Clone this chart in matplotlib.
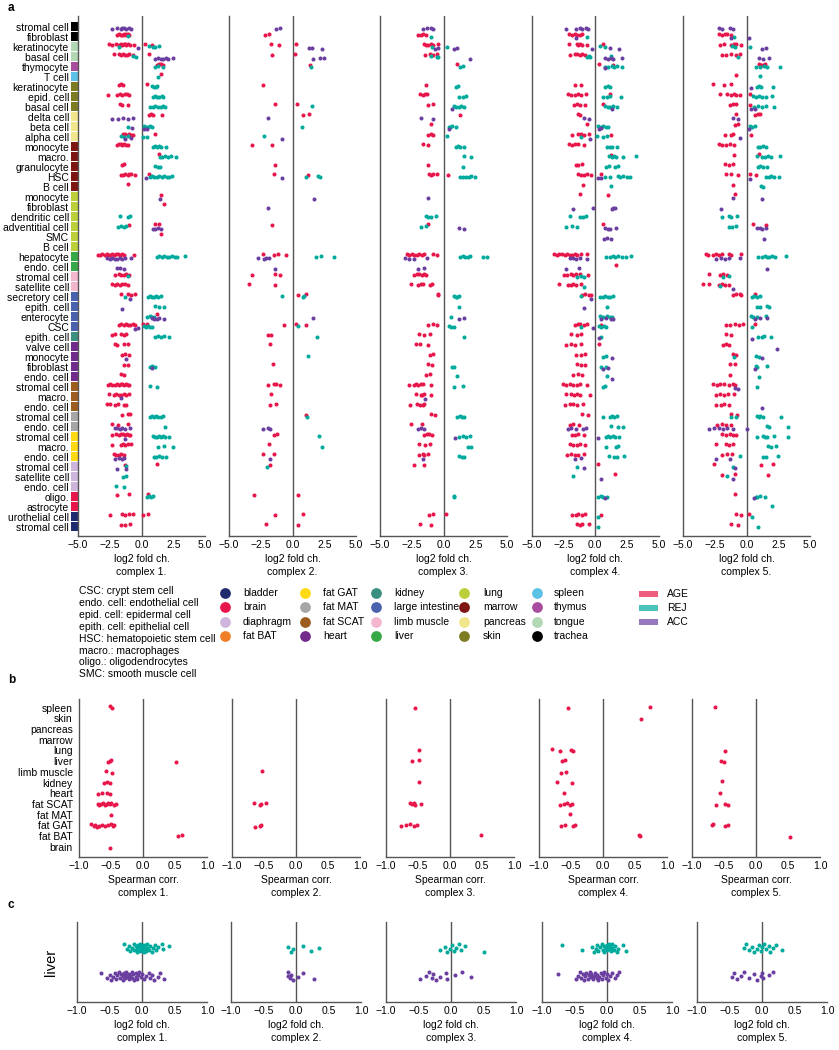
import numpy as np
import matplotlib
matplotlib.use('Agg')
import matplotlib.pyplot as plt
from matplotlib.patches import Rectangle
from matplotlib.transforms import blended_transform_factory

plt.rcParams['font.family'] = ['Liberation Sans', 'DejaVu Sans']
FS = 7.5

# ---------------- data ----------------
cell_labels = ['stromal cell', 'fibroblast', 'keratinocyte', 'basal cell', 'thymocyte', 'T cell',
               'keratinocyte', 'epid. cell', 'basal cell', 'delta cell', 'beta cell', 'alpha cell',
               'monocyte', 'macro.', 'granulocyte', 'HSC', 'B cell', 'monocyte', 'fibroblast',
               'dendritic cell', 'adventitial cell', 'SMC', 'B cell', 'hepatocyte', 'endo. cell',
               'stromal cell', 'satellite cell', 'secretory cell', 'epith. cell', 'enterocyte', 'CSC',
               'epith. cell', 'valve cell', 'monocyte', 'fibroblast', 'endo. cell', 'stromal cell',
               'macro.', 'endo. cell', 'stromal cell', 'endo. cell', 'stromal cell', 'macro.',
               'endo. cell', 'stromal cell', 'satellite cell', 'endo. cell', 'oligo.', 'astrocyte',
               'urothelial cell', 'stromal cell']
cell_tissues = (['trachea'] * 2 + ['tongue'] * 2 + ['thymus'] + ['spleen'] + ['skin'] * 3 +
                ['pancreas'] * 3 + ['marrow'] * 5 + ['lung'] * 6 + ['liver'] * 2 +
                ['limb muscle'] * 2 + ['large intestine'] * 4 + ['kidney'] + ['heart'] * 4 +
                ['fat SCAT'] * 3 + ['fat MAT'] * 2 + ['fat GAT'] * 3 + ['diaphragm'] * 3 +
                ['brain'] * 2 + ['bladder'] * 2)

conditions = ['AGE', 'REJ', 'ACC']
complexes = ['complex 1.', 'complex 2.', 'complex 3.', 'complex 4.', 'complex 5.']

# panel a: log2 fold change per row (1-based row number -> values)
age_c1 = {2: [-1.9, -1.75, -1.6, -1.5, -1.4, -1.3, -1.2, -1.1, -1.0],
          3: [-2.55, -2.3, -2.0, -1.8, -1.7, -1.6, -1.5, -1.4, -1.3, -1.2, -1.05, -0.9, -0.6, 0.3, 0.8],
          4: [-2.15, -1.8, -1.6, -1.45, -1.3, -1.15, -1.0, -0.7, 0.58], 5: [1.2, 1.4, 1.5, 1.7], 6: [1.55],
          7: [-1.75, -1.6, -1.45, 0.4], 8: [-2.6, -1.95, -1.7, -1.5, -1.3, -1.15, -0.95], 9: [-1.7, -1.5, -1.1],
          10: [0.6, 0.75, 0.9, 1.6], 12: [-1.45, -1.3, -1.1, -0.95, -0.8, -0.65, 1.05],
          13: [-1.95, -1.8, -1.65, -1.5, -1.35, -1.2, -1.05], 14: [1.35], 15: [-1.55, -1.4],
          16: [-1.65, -1.45, -1.3, -1.1, -0.95, -0.8, -0.55, 0.58], 17: [-1.05], 18: [1.55], 19: [1.75],
          21: [-0.95, 1.05, 1.35], 22: [1.5],
          24: [-3.45, -3.3, -3.1, -2.9, -2.75, -2.6, -2.45, -2.3, -2.15, -2.0, -1.85, -1.7, -1.55, -1.4, -0.6],
          26: [-2.1, -1.8, -1.6, -1.4, -1.2, -1.0], 27: [-2.35, -2.1, -1.9, -1.7, -1.5, -1.3, -1.1],
          28: [-1.65, -1.05, -0.8, -0.55], 30: [1.25],
          31: [-1.75, -1.6, -1.4, -1.2, -1.05, -0.9, -0.7, -0.55, 0.1, 0.4],
          32: [-2.35, -2.1, -1.6, -1.4, -1.2], 33: [-2.1, -1.9, -1.4, -1.1], 34: [-1.55, -1.3, -1.0],
          35: [-1.35, -1.1], 36: [-1.65, -1.35],
          37: [-2.6, -2.45, -2.3, -2.1, -1.95, -1.8, -1.65, -1.5, -1.35, -1.2, -1.05, -0.95],
          38: [-2.55, -2.2, -2.0, -1.8, -1.6, -1.4, -1.2, -0.95], 39: [-2.7, -2.5, -2.1, -1.85, -1.4, -1.25],
          40: [-1.55, -1.1, -0.9], 41: [-2.3, -1.85, -1.1],
          42: [-2.3, -2.0, -1.8, -1.6, -1.45, -1.3, -1.15, -1.0, -0.9], 43: [-2.3, -1.65, -1.45, -1.3, -1.1, -0.8],
          44: [-2.2, -2.0, -1.8, -1.6, -1.4], 45: [-1.3, 1.2], 48: [-1.9, -0.95, 0.55],
          50: [-2.5, -1.5, -1.3, -1.0, -0.65, 0.15, 0.5], 51: [-1.65, -1.3, -0.9]}
rej_c1 = {2: [-1.1], 3: [-1.8, 0.58, 0.92, 1.05, 1.4], 4: [-0.7, -0.45], 5: [1.05, 1.3, 1.7], 6: [1.3],
          7: [0.85, 1.0, 1.15, 1.25], 8: [0.9, 1.05, 1.2, 1.35, 1.6, 1.7], 9: [0.7, 0.9, 1.1, 1.3, 1.5, 1.7, 1.85],
          11: [-1.05, 0.2, 0.35, 0.5, 0.65, 0.85], 12: [-1.65, -1.4, -1.1, 0.1, 0.45],
          13: [0.9, 1.05, 1.2, 1.35, 1.5, 1.95], 14: [1.45, 1.65, 1.85, 2.05, 2.3, 2.7], 15: [1.1, 1.3, 1.45],
          16: [0.65, 0.85, 1.0, 1.2, 1.4, 1.6, 1.8, 2.0, 2.2, 2.4], 20: [-1.7, -1.1, -0.9],
          21: [-1.85, -1.6, -1.4, -1.2], 24: [1.2, 1.4, 1.6, 1.8, 2.0, 2.2, 2.4, 2.6, 2.8, 3.4], 26: [-1.05],
          28: [-1.3, 0.5, 0.7, 0.85, 1.0, 1.15, 1.3, 1.55], 29: [1.05, 1.4, 1.8], 30: [0.45, 0.65, 0.85, 1.0],
          31: [0.2, 0.35, 0.5, 0.7, 0.85], 32: [1.05, 1.3, 1.5, 1.8, 2.2], 35: [0.65, 0.85, 1.05],
          37: [0.65, 1.2], 40: [0.7, 0.85, 1.0, 1.15, 1.3, 1.5, 1.7], 41: [1.85],
          42: [0.9, 1.05, 1.2, 1.4, 1.55, 1.7, 1.85, 2.2], 43: [1.3, 1.8, 2.45], 44: [1.0, 1.15, 1.35, 1.6, 1.95],
          45: [-1.25], 46: [-1.45, -1.25], 47: [-2.0, -1.4], 48: [0.45, 0.6, 0.75, 0.9]}
acc_c1 = {1: [-2.3, -1.9, -1.6, -1.5, -1.35, -1.2, -1.0, -0.8], 3: [-0.26], 4: [1.05, 1.3, 1.5, 1.7, 1.9, 2.1, 2.5],
          10: [-2.35, -1.85, -1.45, -1.05, -0.65], 11: [-0.75, 0.2, 0.4], 12: [-1.3, -0.8], 16: [0.35], 18: [1.45],
          21: [0.9, 1.1, 1.3, 1.55], 24: [-2.7, -2.5, -2.3, -2.1, -1.9, -1.7, -1.5, -1.3, -0.85],
          25: [-1.95, -1.7, -1.4], 28: [-0.9], 29: [-1.5], 30: [0.8, 1.0, 1.2, 1.4, 1.75], 31: [-0.55, -0.25],
          34: [-1.2], 35: [0.8], 38: [-1.65], 41: [-2.1, -1.9, -1.7, -1.5, -1.3, -0.9], 42: [-1.3],
          44: [-2.1, -1.8, -1.5, -1.4], 45: [-1.9, -1.2]}

age_c2 = {2: [-2.2, -1.85], 3: [-1.7, -1.1, 0.25], 4: [-1.6, 0.2], 5: [1.35], 7: [-2.35], 9: [-1.35, 0.35],
          10: [0.85, 1.3], 13: [-3.15, -1.6], 15: [-1.35], 16: [-1.45, 1.2], 21: [-1.6],
          24: [-2.3, -1.45, -1.15, -0.5], 26: [-3.15, -1.4, -1.0], 27: [-3.45, -1.4], 28: [0.45, 1.05],
          31: [-0.7, 0.3, 1.1], 32: [-1.95, -1.7], 33: [-1.75], 35: [-1.5], 37: [-1.9, -1.45, -1.3, -1.0],
          38: [-1.7], 39: [-1.8, -1.3], 40: [1.1], 42: [-1.45, -1.2], 43: [-1.85], 44: [-2.35, -1.45],
          45: [-1.8], 48: [-3.0, 0.45], 50: [-1.35, 0.8], 51: [-2.1, 0.4]}
rej_c2 = {5: [1.45], 9: [1.5], 11: [0.75], 12: [-2.25], 16: [1.1, 2.0, 2.2], 24: [1.85, 2.25, 3.3],
          28: [-0.85, 0.8, 0.9], 31: [0.4], 32: [1.9], 34: [1.2], 40: [1.15], 42: [2.1], 43: [2.3], 45: [-2.0]}
acc_c2 = {1: [-1.3, -0.95], 3: [1.3, 1.55, 2.35], 4: [1.6, 2.15, 2.5], 10: [-1.9], 12: [-0.8], 16: [-0.8],
          18: [1.7], 19: [-1.9], 24: [-2.7, -2.25, -2.05, -1.85], 25: [-1.4], 30: [1.65],
          41: [-2.3, -1.95, -1.8], 44: [-1.75]}

age_c3 = {2: [-2.0, -1.8, -1.6, -1.35], 3: [-1.55, -1.35, -1.2, -1.0, -0.8, -0.45],
          4: [-1.45, -1.1, -1.0, -0.8, -0.55], 5: [1.1], 7: [-1.35], 8: [-1.85, -1.6, -1.45, -1.3],
          9: [-1.25, -0.8], 10: [1.3], 11: [-1.0], 12: [-1.2, -1.0, -0.85], 13: [-1.65, -1.25], 15: [-1.2],
          16: [-1.15, -1.0, -0.8, -0.5, 0.35], 21: [-1.2],
          24: [-2.9, -2.7, -2.5, -2.3, -2.1, -1.9, -1.7, -1.5, -0.8, -0.5],
          26: [-2.35, -2.1, -1.9, -1.7, -1.5, -1.35], 27: [-2.55, -2.0, -1.8, -1.65, -1.05, -0.9],
          28: [-0.45, -0.4], 31: [-1.2, -0.8, -0.55], 32: [-1.9, -1.55, -1.1], 33: [-2.2, -1.85, -1.2],
          34: [-1.05, -0.8], 35: [-1.2, -0.9], 36: [-1.35, -1.1], 37: [-2.7, -2.3, -2.15, -2.0, -1.8, -1.6, -1.0],
          38: [-2.15, -1.8, -1.7, -1.55, -1.0], 39: [-2.6, -2.05, -1.85, -1.6, -1.5], 40: [-1.0, -0.65],
          41: [-2.55, -1.7], 42: [-1.5, -1.3, -1.15, -0.9], 43: [-1.95, -1.45, -1.05],
          44: [-1.9, -1.6, -1.5, -1.2], 45: [-2.3, -1.5], 50: [-1.15, -0.85, 0.2], 51: [-1.85, -1.0]}
rej_c3 = {2: [-0.95], 3: [-0.9, 0.3], 4: [-1.0, -0.55, -0.4], 5: [1.3, 1.55], 7: [0.95, 1.15],
          8: [1.25, 1.5, 1.8], 9: [0.8, 1.0, 1.2, 1.4, 1.6], 11: [0.4, 0.55, 0.7, 1.0], 12: [0.3],
          13: [1.0, 1.15, 1.3, 1.65], 14: [1.6, 2.2], 15: [1.5], 16: [1.3, 1.55, 1.8, 2.0, 2.2, 2.5],
          20: [-1.4, -1.2, -1.0, -0.6], 21: [-1.75, -1.4], 24: [1.3, 1.5, 1.7, 1.9, 2.1, 3.1, 3.4],
          28: [0.8, 0.95, 1.1, 1.25], 29: [1.25], 30: [0.6], 31: [0.45, 0.6, 0.8], 32: [1.65], 35: [0.7, 0.8],
          36: [1.1], 37: [0.85, 1.55], 40: [1.1, 1.3, 1.45, 1.6], 42: [1.25, 1.55, 1.75, 2.05], 43: [1.95, 2.2],
          44: [1.25, 1.45, 1.65], 48: [0.8, 0.85]}
acc_c3 = {1: [-1.65, -1.3, -1.0, -0.8], 3: [-0.7, -0.45, 0.8, 1.05], 4: [2.05], 9: [0.7], 10: [-1.75, -0.8],
          11: [0.45], 18: [-1.2], 21: [1.2, 1.6], 24: [-3.0, -2.7, -2.3, -1.3], 25: [-2.0, -1.5], 30: [1.2, 1.65],
          38: [-1.45], 41: [-2.0, -1.8, -1.5], 42: [0.9], 44: [-1.6]}

age_c4 = {2: [-2.05, -1.8, -1.6, -1.4, -1.2, -1.05], 3: [-2.05, -1.4, -1.3, -1.15, -1.0, -0.65, 0.6],
          4: [-2.0, -1.6, -1.4, -1.2, -1.0, -0.75], 5: [0.3, 1.4], 7: [-1.55, -1.1],
          8: [-2.15, -1.9, -1.6, -1.3, -1.1, -0.7, 1.2], 9: [-1.65, -1.4, -1.15, -0.8, 0.6], 10: [-1.3, -1.2],
          11: [-0.6], 12: [-1.8, -1.3, -1.1, -0.85, -0.5, 1.25], 13: [-2.05, -1.8, -1.6, -1.3, -0.9], 14: [1.25],
          15: [-1.5, -1.3, -1.05], 16: [-1.3, -1.1, -0.9, -0.6, -0.35, 0.45], 17: [-0.95], 18: [-1.2, 1.0],
          21: [0.6], 24: [-3.2, -3.0, -2.8, -2.6, -2.4, -2.2, -2.0, -1.8, -1.6, -1.4, -1.1, -0.6], 25: [1.65],
          26: [-2.45, -2.2, -1.9, -1.7, -1.5, -1.2, -0.55], 27: [-2.8, -2.1, -1.9, -1.7, -1.5, -1.1],
          28: [-1.05, -0.8, -0.5, -0.3], 31: [-1.55, -1.35, -1.15, -0.9, -0.6, 0.5], 32: [-1.9, -1.4, -1.1],
          33: [-2.3, -1.9, -1.55, -1.1, 0.3], 34: [-1.5, -1.1, -0.75], 35: [-1.4, -1.1, -0.75],
          36: [-1.75, -1.3, -1.0], 37: [-2.55, -2.3, -2.0, -1.7, -1.45, -1.2, -0.65],
          38: [-2.3, -1.9, -1.65, -1.4, -1.15, -0.4], 39: [-2.4, -2.0, -1.7, -1.4, -0.95], 40: [-1.0, -0.55],
          41: [-2.0, -1.75, -1.25], 42: [-1.85, -1.6, -1.3, -0.9], 43: [-2.0, -1.7, -1.45, -1.2, -0.8],
          44: [-2.2, -1.9, -1.6, -1.35, -0.9], 45: [0.2], 46: [1.55],
          50: [-1.85, -1.5, -1.3, -1.0, -0.75, 0.5], 51: [-1.45, -1.2, -1.0, -0.5]}
rej_c4 = {2: [-0.6], 3: [0.4, 0.8], 4: [-0.65, -0.5, -0.4, 1.25], 5: [0.8, 1.05, 1.3, 1.5, 1.7, 2.15],
          7: [0.8, 1.0, 1.15], 8: [0.65, 0.95, 1.2, 2.05], 9: [0.75, 1.0, 1.2, 1.45, 1.75],
          11: [0.2, 0.45, 0.65, 0.85, 1.05], 12: [-1.1, 0.15, 0.6, 0.95], 13: [0.95, 1.15, 1.3, 1.7],
          14: [1.1, 1.3, 1.5, 1.65, 2.2, 3.2], 15: [0.9, 1.1, 1.6, 1.8], 16: [0.8, 1.2, 1.8, 2.0, 2.2, 2.5, 2.75],
          17: [1.25], 20: [-1.95, -1.2, -0.95, -0.7], 21: [-2.25, -1.8, -1.4],
          24: [0.9, 1.2, 1.4, 1.6, 1.8, 2.1, 2.45, 2.85], 26: [-1.45, -1.1, -0.9], 27: [-0.9],
          28: [-1.1, 0.4, 0.6, 0.8, 1.0, 1.2, 1.4], 29: [0.95], 30: [0.4, 0.6, 0.95, 1.15, 1.3],
          31: [-1.1, 0.3, 0.5, 0.7, 0.85], 32: [0.45], 34: [0.6, 0.85], 35: [0.45, 0.9], 36: [0.95],
          37: [0.6, 0.75], 40: [0.6, 1.2, 1.35, 1.5, 1.7], 41: [1.25, 1.8, 2.2], 42: [0.85, 1.0, 1.2, 1.4, 1.6, 1.9],
          43: [0.9, 1.65, 1.8], 44: [1.1, 1.5, 1.75, 2.3], 45: [-1.45], 46: [-1.75], 48: [0.2, 0.45, 0.6, 0.95],
          50: [0.25], 51: [0.25]}
acc_c4 = {1: [-2.3, -1.5, -1.2, -1.0, -0.7, -0.55], 2: [-1.5], 3: [-0.25, 1.2, 1.9], 4: [0.8, 1.05, 1.25, 1.45, 2.1],
          5: [0.8], 9: [1.35], 10: [-0.85, -0.5], 11: [0.3, 0.45], 12: [-0.4], 16: [0.25, 0.5],
          19: [-1.75, -0.15, 1.35, 1.4, 1.6], 21: [0.8, 1.0, 1.2, 1.65], 22: [0.7, 0.95, 1.25],
          24: [-1.95, -1.7, -1.5, -1.2, -0.6], 25: [-2.3, -1.25], 28: [-0.3], 29: [-0.85],
          30: [0.5, 0.85, 1.25, 1.45], 31: [-0.15], 32: [0.3], 34: [1.3], 35: [0.65, 1.0], 36: [1.35],
          41: [-2.1, -1.9, -1.5, -0.95, -0.7], 42: [0.25], 44: [-1.55, -1.1], 45: [-0.9], 46: [0.45], 48: [0.75]}

age_c5 = {2: [-2.2, -1.9, -1.7, -1.5, -1.25], 3: [-2.05, -1.8, -1.2, -1.0, -0.8, -0.4],
          4: [-1.95, -1.65, -1.25, -0.85, -0.55], 5: [1.0, 1.15, 1.3, 1.45], 6: [-0.85], 7: [-2.6, -1.8, -1.2],
          8: [-2.1, -1.5, -1.2, -1.0, -0.8, -0.5, 0.25], 9: [-1.3, -1.1, -0.85, 0.25], 10: [-0.85, 0.65, 0.9, 1.05],
          11: [-0.9, -0.65], 12: [-1.7, -1.2, -1.05, 0.35], 13: [-2.2, -1.9, -1.6, -1.3, -1.0], 14: [-0.95, 1.0],
          15: [-1.7, -1.4, -1.1], 16: [-1.6, -1.2, -0.7, 0.3, 0.75], 17: [-1.05], 18: [-0.9], 21: [0.5, 1.5],
          24: [-3.2, -3.0, -2.6, -2.4, -2.15, -1.9, -1.4, -1.25, -0.4], 26: [-2.95, -2.1, -1.85, -1.55],
          27: [-3.4, -2.95, -2.15, -1.9, -1.7, -1.35], 28: [-1.1, -0.8, -0.55, -0.4, 0.65],
          31: [-1.6, -1.3, -0.9, -0.6, -0.3, 0.65], 32: [-1.6, -1.2], 33: [-1.85, -1.6, -1.35], 34: [-1.1, -0.8],
          35: [-1.3, -0.9], 36: [-1.3], 37: [-2.6, -2.3, -2.05, -1.8, -1.4, -1.1, -0.9],
          38: [-2.4, -2.05, -1.75, -1.45, -1.0], 39: [-2.4, -2.0, -1.8, -1.35], 40: [-1.2, -0.75],
          41: [-2.35, -1.9, -1.6, -1.2], 42: [-1.95, -1.6, -1.3, -1.1, -0.8], 43: [-2.4, -1.6, -1.4, -1.05],
          44: [-1.9, -1.5, -1.15], 45: [-2.55, 1.15, 2.05], 46: [-1.9, -0.9, 1.7], 48: [-0.9],
          50: [-0.8, -0.4, 0.2], 51: [-1.2, -0.65]}
rej_c5 = {2: [-1.0], 3: [-1.15, -0.9, 0.25], 4: [-0.65], 5: [0.75, 1.1, 1.4, 1.65, 2.6], 6: [1.05],
          7: [0.8, 1.0, 1.15, 2.1], 8: [0.5, 0.75, 1.0, 1.25, 1.55, 2.0], 9: [0.6, 0.9, 1.2, 1.5, 2.15],
          11: [0.25, 0.45, 0.7], 13: [0.9, 1.1, 1.3, 1.55], 14: [0.8, 1.25, 1.45, 1.7, 1.95, 2.6],
          15: [0.9, 1.1, 1.3, 1.6], 16: [1.5, 1.75, 1.95, 2.2, 2.55], 17: [1.15, 1.3],
          20: [-1.9, -1.4, -1.2, -0.75], 21: [-1.4, -1.15, -0.85], 24: [0.9, 1.2, 1.45, 1.6, 1.8, 2.0, 2.25, 3.1],
          26: [-1.85, -1.35], 27: [-2.05], 28: [0.4, 0.6, 0.8, 1.05], 29: [0.85, 1.05, 1.6, 1.8],
          30: [0.35, 0.55, 0.85, 1.55], 31: [0.4], 32: [0.9, 1.2, 1.35, 1.9], 34: [-1.0, 0.75, 0.95],
          35: [0.75, 0.85, 1.65], 36: [1.0], 37: [0.8], 40: [-1.25, -0.8, 0.8, 0.95, 1.1, 1.3, 2.75],
          41: [1.6, 1.75, 3.3], 42: [0.8, 1.3, 1.45, 1.6, 2.15, 3.3], 43: [1.7, 1.95, 2.3],
          44: [-0.5, 1.3, 1.55, 2.5], 45: [-1.1], 46: [-1.55], 48: [0.75, 0.85, 1.1, 1.45], 49: [2.0],
          50: [0.4], 51: [0.9]}
acc_c5 = {1: [-2.15, -1.9, -1.3, -1.05], 2: [-1.2, 0.2], 3: [1.25, 1.5], 4: [0.95, 1.3, 1.75], 7: [0.35],
          9: [0.35, 0.7], 10: [-1.1, -0.65], 11: [0.2], 12: [-0.5], 16: [0.3], 18: [-1.05, 1.2], 19: [-2.0],
          21: [0.8, 1.05, 1.2, 1.5], 22: [1.4], 24: [-2.4, -2.0, -1.7, -1.4, -0.5], 25: [1.65], 27: [-1.05],
          30: [0.65, 1.05, 1.6], 32: [0.4], 33: [2.4], 34: [1.25], 35: [0.65], 37: [-0.9, -0.65], 39: [1.2],
          41: [-2.95, -2.55, -2.2, -1.85, -1.5, -1.1, 0.0], 44: [-2.4, -1.3], 45: [-0.9], 46: [-1.05], 48: [0.6]}

# panel b: Spearman correlation per tissue
b_tissues = ['spleen', 'skin', 'pancreas', 'marrow', 'lung', 'liver', 'limb muscle', 'kidney', 'heart',
             'fat SCAT', 'fat MAT', 'fat GAT', 'fat BAT', 'brain']
corr_c1 = {'spleen': [-0.51, -0.48], 'liver': [-0.55, -0.52, -0.5, 0.51], 'limb muscle': [-0.58, -0.49],
           'kidney': [-0.61, -0.57, -0.52], 'heart': [-0.7, -0.64, -0.57, -0.52],
           'fat SCAT': [-0.71, -0.68, -0.65, -0.62, -0.6, -0.57, -0.55, -0.52, -0.5, -0.45, -0.42],
           'fat MAT': [-0.5],
           'fat GAT': [-0.82, -0.77, -0.75, -0.72, -0.68, -0.64, -0.6, -0.55, -0.5, -0.47, -0.45],
           'fat BAT': [0.55, 0.61], 'brain': [-0.52]}
corr_c2 = {'limb muscle': [-0.53], 'fat SCAT': [-0.66, -0.57, -0.55, -0.47], 'fat GAT': [-0.64, -0.57, -0.54]}
corr_c3 = {'spleen': [-0.55], 'lung': [-0.48], 'liver': [-0.59, -0.48], 'kidney': [-0.49],
           'fat SCAT': [-0.63, -0.6, -0.56, -0.54, -0.45], 'fat GAT': [-0.77, -0.68, -0.62, -0.56, -0.52],
           'fat BAT': [0.48]}
corr_c4 = {'spleen': [-0.54, 0.73], 'skin': [0.59], 'lung': [-0.8, -0.67, -0.5, -0.47], 'liver': [-0.64, -0.59],
           'limb muscle': [-0.66, -0.58], 'kidney': [-0.72, -0.48], 'heart': [-0.61],
           'fat SCAT': [-0.67, -0.61, -0.56, -0.51, -0.49], 'fat MAT': [-0.52],
           'fat GAT': [-0.66, -0.6, -0.47, -0.44], 'fat BAT': [0.57, 0.58]}
corr_c5 = {'spleen': [-0.64], 'lung': [-0.49], 'liver': [-0.55, -0.5], 'kidney': [-0.53], 'heart': [-0.56],
           'fat SCAT': [-0.62, -0.48, -0.44], 'fat GAT': [-0.69, -0.67, -0.48, -0.44], 'fat BAT': [0.53]}

# panel c: liver log2 fold change (REJ, ACC)
liver_rej = [
    [-0.28, -0.23, -0.2, -0.18, -0.15, -0.13, -0.12, -0.1, -0.08, -0.07, -0.06, -0.05, -0.04, -0.03, -0.02,
     -0.01, 0.0, 0.0, 0.01, 0.02, 0.02, 0.03, 0.04, 0.05, 0.06, 0.07, 0.08, 0.1, 0.12, 0.15, 0.17, 0.2,
     0.22, 0.25, 0.3, 0.33, 0.41],
    [-0.12, -0.08, -0.04, 0.1, 0.23, 0.36],
    [-0.17, -0.1, -0.06, -0.02, 0.02, 0.05, 0.08, 0.12, 0.16, 0.21, 0.5],
    [-0.69, -0.39, -0.23, -0.2, -0.17, -0.15, -0.14, -0.11, -0.08, -0.06, -0.05, -0.04, -0.02, 0.0, 0.0,
     0.02, 0.03, 0.04, 0.05, 0.06, 0.07, 0.08, 0.1, 0.12, 0.15, 0.17, 0.25, 0.29],
    [-0.28, -0.25, -0.2, -0.15, -0.12, -0.08, -0.05, -0.02, 0.0, 0.03, 0.06, 0.1, 0.13, 0.17, 0.22, 0.3]]
liver_acc = [
    [-0.63, -0.54, -0.5, -0.47, -0.45, -0.42, -0.4, -0.38, -0.36, -0.34, -0.32, -0.3, -0.3, -0.28, -0.26,
     -0.25, -0.24, -0.22, -0.2, -0.2, -0.18, -0.16, -0.15, -0.14, -0.12, -0.1, -0.1, -0.08, -0.06, -0.04,
     -0.02, 0.0, 0.03, 0.06, 0.1, 0.12, 0.15, 0.18, 0.25, 0.28, 0.34],
    [-0.13, -0.12, -0.1, -0.08, -0.04, 0.03, 0.1, 0.27],
    [-0.48, -0.38, -0.34, -0.29, -0.27, -0.23, -0.17, -0.08, -0.06, 0.06, 0.17, 0.3],
    [-0.76, -0.48, -0.45, -0.42, -0.4, -0.37, -0.35, -0.34, -0.32, -0.3, -0.28, -0.26, -0.25, -0.24, -0.22,
     -0.2, -0.18, -0.16, -0.15, -0.14, -0.12, -0.1, -0.08, -0.06, -0.04, -0.02, 0.0, 0.02, 0.05, 0.08,
     0.12, 0.16, 0.18],
    [-0.46, -0.43, -0.38, -0.33, -0.27, -0.2, -0.12, -0.07, -0.02, 0.0, 0.02, 0.1, 0.17]]

abbreviations = ['CSC: crypt stem cell', 'endo. cell: endothelial cell', 'epid. cell: epidermal cell',
                 'epith. cell: epithelial cell', 'HSC: hematopoietic stem cell', 'macro.: macrophages',
                 'oligo.: oligodendrocytes', 'SMC: smooth muscle cell']

tissue_colors = {'bladder': '#1F2B6F', 'brain': '#E8174B', 'diaphragm': '#CDB5DC', 'fat BAT': '#F07E26',
                 'fat GAT': '#FFD912', 'fat MAT': '#A6A6A6', 'fat SCAT': '#9C5D1F', 'heart': '#722B8C',
                 'kidney': '#3A8F80', 'large intestine': '#4A62AD', 'limb muscle': '#F4B6CF',
                 'liver': '#36A846', 'lung': '#BCCF3A', 'marrow': '#7D1512', 'pancreas': '#F1E68C',
                 'skin': '#7D7B21', 'spleen': '#5CC1E6', 'thymus': '#A84D9E', 'tongue': '#B3D7B3',
                 'trachea': '#000000'}
cond_colors = {'AGE': '#E8174B', 'REJ': '#00AA9C', 'ACC': '#6B3FA0'}

# ---------------- figure ----------------
W, H = 839, 1050
fig = plt.figure(figsize=(W / 100, H / 100), dpi=100)


def ax_px(left, top, width, height):
    return fig.add_axes([left / W, 1 - (top + height) / H, width / W, height / H])


def jitter(n, amp, seed):
    return ((np.arange(n) * 0.6180339887 + seed * 0.371) % 1.0 - 0.5) * 2 * amp


def style(ax):
    for s in ['top', 'right']:
        ax.spines[s].set_visible(False)
    for s in ['left', 'bottom']:
        ax.spines[s].set_color('#555555')
        ax.spines[s].set_linewidth(1.0)
    ax.tick_params(length=0, labelsize=FS, pad=3)
    ax.axvline(0, color='#555555', lw=1.0, zorder=1)


def fmt(v):
    return f'{v:.1f}'.replace('-', '\u2212')


PT = 8.5  # marker area

a_series = [(age_c1, rej_c1, acc_c1), (age_c2, rej_c2, acc_c2), (age_c3, rej_c3, acc_c3),
            (age_c4, rej_c4, acc_c4), (age_c5, rej_c5, acc_c5)]
a_left = [78, 229, 380, 531.5, 683]
dodge = {'AGE': -0.22, 'REJ': 0.0, 'ACC': 0.18}
n_rows = len(cell_labels)

for k, series in enumerate(a_series):
    ax = ax_px(a_left[k], 16, 127, 520)
    style(ax)
    for ci, (cond, dd) in enumerate(zip(conditions, series)):
        for row, vals in dd.items():
            y = (row - 1) + dodge[cond] + jitter(len(vals), 0.08, row + ci * 7 + k * 3)
            ax.scatter(vals, y, s=PT, color=cond_colors[cond], linewidths=0, zorder=3)
    ax.set_xlim(-5, 5)
    ax.set_ylim(n_rows - 0.07, -1.07)
    xt = [-5, -2.5, 0, 2.5, 5]
    ax.set_xticks(xt)
    ax.set_xticklabels([fmt(v) for v in xt])
    ax.set_xlabel('log2 fold ch.\n' + complexes[k], fontsize=FS, labelpad=3, linespacing=1.3)
    if k == 0:
        ax.set_yticks(range(n_rows))
        ax.set_yticklabels(cell_labels, fontsize=FS)
        ax.tick_params(axis='y', pad=6.5)
        tr = blended_transform_factory(ax.transAxes, ax.transData)
        for i, t in enumerate(cell_tissues):
            ax.add_patch(Rectangle((-7.5 / 127, i - 0.43), 7 / 127, 0.86, transform=tr,
                                   color=tissue_colors[t], clip_on=False, lw=0))
    else:
        ax.set_yticks([])

# panel b
b_series = [corr_c1, corr_c2, corr_c3, corr_c4, corr_c5]
b_left = [79, 232, 386, 539, 692]
for k, dd in enumerate(b_series):
    ax = ax_px(b_left[k], 699, 128, 158)
    style(ax)
    for t, vals in dd.items():
        r = b_tissues.index(t)
        y = r + jitter(len(vals), 0.12, r + k * 5)
        ax.scatter(vals, y, s=PT, color=cond_colors['AGE'], linewidths=0, zorder=3)
    ax.set_xlim(-1, 1)
    ax.set_ylim(len(b_tissues) - 0.05, -0.8)
    xt = [-1, -0.5, 0, 0.5, 1]
    ax.set_xticks(xt)
    ax.set_xticklabels([fmt(v) for v in xt])
    ax.set_xlabel('Spearman corr.\n' + complexes[k], fontsize=FS, labelpad=3, linespacing=1.3)
    if k == 0:
        ax.set_yticks(range(len(b_tissues)))
        ax.set_yticklabels(b_tissues, fontsize=FS)
        ax.tick_params(axis='y', pad=4.5)
    else:
        ax.set_yticks([])

# panel c
c_left = [77, 231, 386, 542, 697]
for k in range(5):
    ax = ax_px(c_left[k], 922, 130, 80)
    style(ax)
    for r, (cond, vals) in enumerate([('REJ', liver_rej[k]), ('ACC', liver_acc[k])]):
        y = r + jitter(len(vals), 0.16, r * 3 + k)
        ax.scatter(vals, y, s=PT, color=cond_colors[cond], linewidths=0, zorder=3)
    ax.set_xlim(-1, 1)
    ax.set_ylim(1.93, -0.93)
    xt = [-1, -0.5, 0, 0.5, 1]
    ax.set_xticks(xt)
    ax.set_xticklabels([fmt(v) for v in xt])
    ax.set_xlabel('log2 fold ch.\n' + complexes[k], fontsize=FS, labelpad=3, linespacing=1.3)
    ax.set_yticks([])

# overlay for legends and labels
ov = fig.add_axes([0, 0, 1, 1])
ov.set_xlim(0, W)
ov.set_ylim(H, 0)
ov.axis('off')
ov.patch.set_alpha(0)

ov.text(51, 962, 'liver', rotation=90, ha='center', va='center', fontsize=10.5)
for letter, yy in [('a', 8), ('b', 680), ('c', 905)]:
    ov.text(8, yy, letter, fontsize=8.5, fontweight='bold', ha='left', va='center')

for i, line in enumerate(abbreviations):
    ov.text(79, 591 + 11.9 * i, line, fontsize=FS, ha='left', va='center')

legend_cols = [['bladder', 'brain', 'diaphragm', 'fat BAT'],
               ['fat GAT', 'fat MAT', 'fat SCAT', 'heart'],
               ['kidney', 'large intestine', 'limb muscle', 'liver'],
               ['lung', 'marrow', 'pancreas', 'skin'],
               ['spleen', 'thymus', 'tongue', 'trachea']]
circ_x = [225, 305, 376, 464, 537]
text_x = [243, 323, 394, 483, 554]
for ci, col in enumerate(legend_cols):
    for ri, t in enumerate(col):
        yy = 593 + 14.3 * ri
        ov.scatter([circ_x[ci]], [yy], s=60, color=tissue_colors[t], linewidths=0)
        ov.text(text_x[ci], yy, t, fontsize=FS, ha='left', va='center')

for i, cond in enumerate(conditions):
    yy = 594 + 14.2 * i
    ov.add_patch(Rectangle((639, yy - 3), 19, 6, color=cond_colors[cond], alpha=0.7, lw=0))
    ov.text(667, yy, cond, fontsize=FS, ha='left', va='center')

fig.savefig('out.png', dpi=100)
